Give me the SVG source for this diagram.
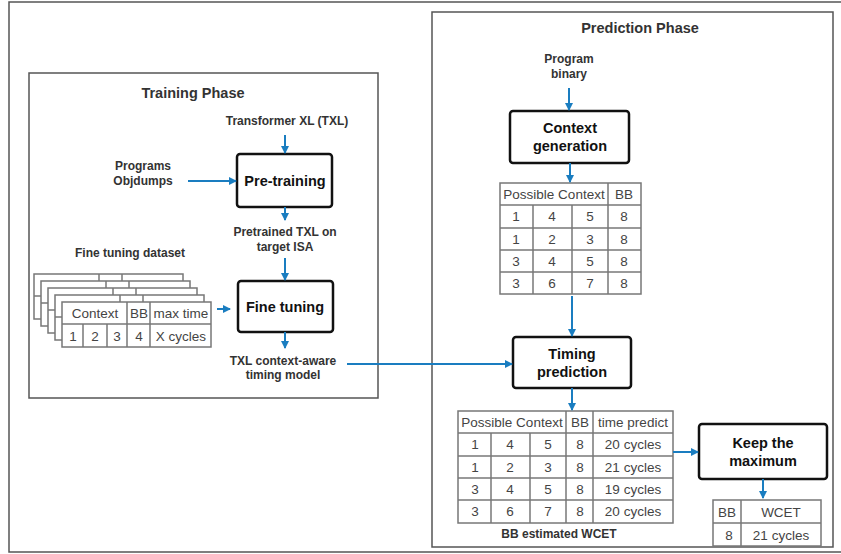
<svg xmlns="http://www.w3.org/2000/svg" width="841" height="554" viewBox="0 0 841 554">
<defs>
<marker id="ah" markerWidth="8" markerHeight="8" refX="7" refY="4" orient="auto" markerUnits="userSpaceOnUse">
<path d="M0,0 L8,4 L0,8 Z" fill="#1a7dc0"/>
</marker>
<g id="tbl">
<rect x="0" y="0" width="149" height="45" fill="#fff" stroke="#777" stroke-width="1.5"/>
<line x1="0" y1="22" x2="149" y2="22" stroke="#777" stroke-width="1.5"/>
<line x1="65" y1="0" x2="65" y2="45" stroke="#777" stroke-width="1.5"/>
<line x1="88" y1="0" x2="88" y2="45" stroke="#777" stroke-width="1.5"/>
<line x1="21" y1="22" x2="21" y2="45" stroke="#777" stroke-width="1.5"/>
<line x1="45" y1="22" x2="45" y2="45" stroke="#777" stroke-width="1.5"/>
</g>
</defs>
<style>
.frame{fill:none;stroke:#555;stroke-width:1.5}
.box{fill:#fff;stroke:#111;stroke-width:2.5}
.title{font-family:"Liberation Sans",Arial,sans-serif;font-weight:bold;font-size:14.5px;fill:#333;text-anchor:middle}
.lbl{font-family:"Liberation Sans",Arial,sans-serif;font-weight:bold;font-size:12px;fill:#333;text-anchor:middle}
.bt{font-family:"Liberation Sans",Arial,sans-serif;font-weight:bold;font-size:14.5px;fill:#111;text-anchor:middle}
.cell{fill:#fff;stroke:#777;stroke-width:1.5}
.tl{stroke:#777;stroke-width:1.5}
.tt{font-family:"Liberation Sans",Arial,sans-serif;font-size:13.5px;fill:#444;text-anchor:middle}
.arr{stroke:#1a7dc0;stroke-width:2;fill:none;marker-end:url(#ah)}
</style>
<rect class="frame" x="9" y="2" width="840" height="550"/>

<g id="training-phase">
<rect class="frame" x="29" y="73" width="349" height="325"/>
<text class="title" x="193" y="98">Training Phase</text>
</g>
<g id="prediction-phase">
<rect class="frame" x="432" y="12" width="401" height="535"/>
<text class="title" x="640" y="33">Prediction Phase</text>
</g>

<g id="txl-label"><text class="lbl" x="287" y="125">Transformer XL (TXL)</text></g>
<g id="programs-label"><text class="lbl" x="143" y="170">Programs</text><text class="lbl" x="143" y="185">Objdumps</text></g>
<g id="pretraining"><rect class="box" x="237" y="154" width="95" height="53" rx="3"/><text class="bt" x="285" y="186">Pre-training</text></g>
<g id="pretrained-label"><text class="lbl" x="285" y="236">Pretrained TXL on</text><text class="lbl" x="285" y="251">target ISA</text></g>
<g id="finetuning"><rect class="box" x="238" y="281" width="95" height="51" rx="3"/><text class="bt" x="285" y="312">Fine tuning</text></g>
<g id="model-label"><text class="lbl" x="283" y="365">TXL context-aware</text><text class="lbl" x="283" y="379">timing model</text></g>

<g id="dataset">
<text class="lbl" x="130" y="257">Fine tuning dataset</text>
<use href="#tbl" x="34" y="274"/>
<use href="#tbl" x="41" y="281"/>
<use href="#tbl" x="48" y="288"/>
<use href="#tbl" x="55" y="295"/>
<use href="#tbl" x="62" y="302"/>
<text class="tt" x="95" y="318">Context</text>
<text class="tt" x="139" y="318">BB</text>
<text class="tt" x="181" y="318">max time</text>
<text class="tt" x="73" y="341">1</text>
<text class="tt" x="95" y="341">2</text>
<text class="tt" x="117" y="341">3</text>
<text class="tt" x="139" y="341">4</text>
<text class="tt" x="181" y="341">X cycles</text>
</g>

<g id="program-binary"><text class="lbl" x="569" y="63">Program</text><text class="lbl" x="569" y="78">binary</text></g>
<g id="context-generation"><rect class="box" x="510" y="111" width="119" height="52" rx="3"/><text class="bt" x="570" y="133">Context</text><text class="bt" x="570" y="151">generation</text></g>

<g id="context-table">
<rect class="cell" x="500" y="183" width="141" height="111"/>
<line class="tl" x1="500" y1="205" x2="641" y2="205"/>
<line class="tl" x1="500" y1="228" x2="641" y2="228"/>
<line class="tl" x1="500" y1="250" x2="641" y2="250"/>
<line class="tl" x1="500" y1="272" x2="641" y2="272"/>
<line class="tl" x1="533" y1="205" x2="533" y2="294"/>
<line class="tl" x1="572" y1="205" x2="572" y2="294"/>
<line class="tl" x1="608" y1="183" x2="608" y2="294"/>
<text class="tt" x="554" y="199">Possible Context</text><text class="tt" x="624" y="199">BB</text>
<text class="tt" x="516" y="221">1</text><text class="tt" x="552" y="221">4</text><text class="tt" x="590" y="221">5</text><text class="tt" x="624" y="221">8</text>
<text class="tt" x="516" y="244">1</text><text class="tt" x="552" y="244">2</text><text class="tt" x="590" y="244">3</text><text class="tt" x="624" y="244">8</text>
<text class="tt" x="516" y="266">3</text><text class="tt" x="552" y="266">4</text><text class="tt" x="590" y="266">5</text><text class="tt" x="624" y="266">8</text>
<text class="tt" x="516" y="288">3</text><text class="tt" x="552" y="288">6</text><text class="tt" x="590" y="288">7</text><text class="tt" x="624" y="288">8</text>
</g>

<g id="timing-prediction"><rect class="box" x="513" y="337" width="118" height="51" rx="3"/><text class="bt" x="572" y="359">Timing</text><text class="bt" x="572" y="377">prediction</text></g>

<g id="prediction-table">
<rect class="cell" x="458" y="411" width="215" height="112"/>
<line class="tl" x1="458" y1="433" x2="673" y2="433"/>
<line class="tl" x1="458" y1="456" x2="673" y2="456"/>
<line class="tl" x1="458" y1="478" x2="673" y2="478"/>
<line class="tl" x1="458" y1="500" x2="673" y2="500"/>
<line class="tl" x1="491" y1="433" x2="491" y2="523"/>
<line class="tl" x1="530" y1="433" x2="530" y2="523"/>
<line class="tl" x1="566" y1="411" x2="566" y2="523"/>
<line class="tl" x1="593" y1="411" x2="593" y2="523"/>
<text class="tt" x="512" y="427">Possible Context</text><text class="tt" x="580" y="427">BB</text><text class="tt" x="633" y="427">time predict</text>
<text class="tt" x="475" y="449">1</text><text class="tt" x="510" y="449">4</text><text class="tt" x="548" y="449">5</text><text class="tt" x="580" y="449">8</text><text class="tt" x="633" y="449">20 cycles</text>
<text class="tt" x="475" y="472">1</text><text class="tt" x="510" y="472">2</text><text class="tt" x="548" y="472">3</text><text class="tt" x="580" y="472">8</text><text class="tt" x="633" y="472">21 cycles</text>
<text class="tt" x="475" y="494">3</text><text class="tt" x="510" y="494">4</text><text class="tt" x="548" y="494">5</text><text class="tt" x="580" y="494">8</text><text class="tt" x="633" y="494">19 cycles</text>
<text class="tt" x="475" y="516">3</text><text class="tt" x="510" y="516">6</text><text class="tt" x="548" y="516">7</text><text class="tt" x="580" y="516">8</text><text class="tt" x="633" y="516">20 cycles</text>
<text class="lbl" x="559" y="538">BB estimated WCET</text>
</g>

<g id="keep-maximum"><rect class="box" x="699" y="424" width="128" height="55" rx="3"/><text class="bt" x="763" y="448">Keep the</text><text class="bt" x="763" y="466">maximum</text></g>

<g id="wcet-table">
<rect class="cell" x="713" y="500" width="108" height="46"/>
<line class="tl" x1="713" y1="523" x2="821" y2="523"/>
<line class="tl" x1="741" y1="500" x2="741" y2="546"/>
<text class="tt" x="727" y="517">BB</text><text class="tt" x="781" y="517">WCET</text>
<text class="tt" x="729" y="540">8</text><text class="tt" x="781" y="540">21 cycles</text>
</g>

<g id="connectors">
<line class="arr" x1="285" y1="135" x2="285" y2="153"/>
<line class="arr" x1="188" y1="181" x2="236" y2="181"/>
<line class="arr" x1="285" y1="207" x2="285" y2="220"/>
<line class="arr" x1="285" y1="258" x2="285" y2="280"/>
<line class="arr" x1="217" y1="309" x2="230" y2="309"/>
<line class="arr" x1="285" y1="332" x2="285" y2="348"/>
<line class="arr" x1="347" y1="364" x2="512" y2="364"/>
<line class="arr" x1="569" y1="88" x2="569" y2="110"/>
<line class="arr" x1="570" y1="163" x2="570" y2="182"/>
<line class="arr" x1="572" y1="296" x2="572" y2="336"/>
<line class="arr" x1="572" y1="388" x2="572" y2="410"/>
<line class="arr" x1="673" y1="452" x2="698" y2="452"/>
<line class="arr" x1="763" y1="479" x2="763" y2="498"/>
</g>
</svg>
